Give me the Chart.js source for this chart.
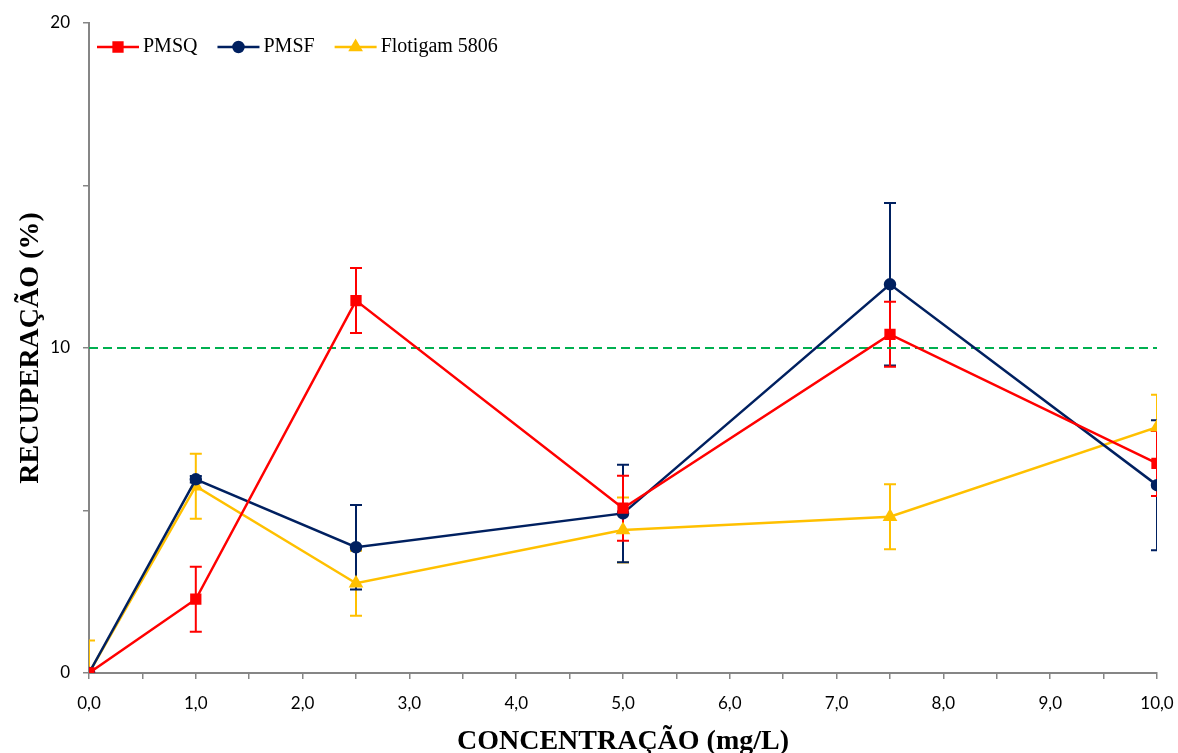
<!DOCTYPE html>
<html>
<head>
<meta charset="utf-8">
<script src="https://cdn.jsdelivr.net/npm/chart.js@4/dist/chart.umd.min.js"></script>
<style>
html,body{margin:0;padding:0;background:#fff;}
#wrap{width:1178px;height:753px;position:relative;}
</style>
</head>
<body>
<div id="wrap"><canvas id="c" width="1178" height="753"></canvas></div>
<script>
// ---- data ----
const concentrations = [0, 1, 2.5, 5, 7.5, 10];
const seriesNames = ['PMSQ', 'PMSF', 'Flotigam 5806'];
const pmsq    = [0, 2.27, 11.46, 5.07, 10.42, 6.45];
const pmsqErr = [0, 1.0, 1.0, 1.0, 1.0, 1.0];
const pmsf    = [0, 5.96, 3.87, 4.91, 11.96, 5.78];
const pmsfErr = [0, 0.1, 1.3, 1.5, 2.5, 2.0];
const flot    = [0, 5.75, 2.76, 4.40, 4.81, 7.56];
const flotErr = [1.0, 1.0, 1.0, 1.0, 1.0, 1.0];
const threshold = 10;
const xLabelTicks = [0,1,2,3,4,5,6,7,8,9,10];
const yLabelTicks = [0,10,20];
const xTitle = 'CONCENTRAÇÃO (mg/L)';
const yTitle = 'RECUPERAÇÃO (%)';

const RED = '#FF0000', NAVY = '#002060', GOLD = '#FFC000', GREEN = '#00B050', AXIS = '#868686';

function pts(ys){ return concentrations.map((x,i)=>({x:x, y:ys[i]})); }

const errorSets = [pmsqErr, pmsfErr, flotErr];

const errorBarPlugin = {
  id: 'errorBars',
  beforeDatasetsDraw(chart){
    const ctx = chart.ctx, ys = chart.scales.y, ca = chart.chartArea;
    ctx.save();
    ctx.beginPath();
    ctx.rect(ca.left, ca.top, ca.right-ca.left, ca.bottom-ca.top);
    ctx.clip();
    [2,1,0].forEach(i=>{
      const ds = chart.data.datasets[i];
      const errs = errorSets[i];
      const meta = chart.getDatasetMeta(i);
      ctx.strokeStyle = ds.borderColor;
      ctx.lineWidth = 2;
      meta.data.forEach((el,j)=>{
        const e = errs[j];
        if(!e) return;
        const v = ds.data[j].y;
        const x = el.x;
        const yt = ys.getPixelForValue(v+e), yb = ys.getPixelForValue(v-e);
        ctx.beginPath();
        ctx.moveTo(x, yt); ctx.lineTo(x, yb);
        ctx.moveTo(x-6, yt); ctx.lineTo(x+6, yt);
        ctx.moveTo(x-6, yb); ctx.lineTo(x+6, yb);
        ctx.stroke();
      });
    });
    ctx.restore();
  }
};

// horizontal legend drawn inside the plot area
const insideLegendPlugin = {
  id: 'insideLegend',
  afterDraw(chart){
    const ctx = chart.ctx, ca = chart.chartArea;
    let x = ca.left + 8;
    const y = ca.top + 24;
    const lineW = 42;
    ctx.save();
    ctx.font = '20px "Liberation Serif"';
    ctx.textBaseline = 'middle';
    ctx.textAlign = 'left';
    [0,1,2].forEach(i=>{
      const ds = chart.data.datasets[i];
      ctx.strokeStyle = ds.borderColor;
      ctx.lineWidth = 2.5;
      ctx.beginPath(); ctx.moveTo(x, y); ctx.lineTo(x+lineW, y); ctx.stroke();
      ctx.fillStyle = ds.borderColor;
      Chart.helpers.drawPoint(ctx, {pointStyle: ds.pointStyle, radius: ds.pointRadius, borderWidth:1, rotation:0}, x+lineW/2, y);
      ctx.fillStyle = '#000';
      const tx = x + lineW + 4;
      ctx.fillText(ds.label, tx, y);
      x = tx + ctx.measureText(ds.label).width + 20;
    });
    ctx.restore();
  }
};

new Chart(document.getElementById('c'), {
  type: 'line',
  data: {
    datasets: [
      { label: seriesNames[0], data: pts(pmsq), borderColor: RED, backgroundColor: RED,
        borderWidth: 2.5, pointStyle: 'rect', pointRadius: 6.2, pointHoverRadius: 6.2, order: 1 },
      { label: seriesNames[1], data: pts(pmsf), borderColor: NAVY, backgroundColor: NAVY,
        borderWidth: 2.5, pointStyle: 'circle', pointRadius: 5, pointHoverRadius: 5, order: 2 },
      { label: seriesNames[2], data: pts(flot), borderColor: GOLD, backgroundColor: GOLD,
        borderWidth: 2.5, pointStyle: 'triangle', pointRadius: 6, pointHoverRadius: 6, order: 3 },
      { label: 'ref', data: [{x:concentrations[0], y:threshold},{x:concentrations[concentrations.length-1], y:threshold}],
        borderColor: GREEN, borderWidth: 2, borderDash: [9,5], pointRadius: 0, order: 4 }
    ]
  },
  options: {
    responsive: false,
    animation: false,
    devicePixelRatio: 1,
    layout: { padding: { left: 0, right: 21, top: 23, bottom: 0 } },
    plugins: {
      legend: { display: false },
      tooltip: { enabled: false }
    },
    scales: {
      x: {
        type: 'linear', min: 0, max: 10,
        afterBuildTicks: (s) => { const t=[]; for(let v=0; v<=10.001; v+=0.5) t.push({value:v}); s.ticks=t; },
        afterFit: (s) => { s.height = 80; s.paddingLeft = 0; s.paddingRight = 0; },
        border: { color: AXIS, width: 2 },
        grid: { drawOnChartArea: false, color: AXIS, tickLength: 6, lineWidth: 1.5 },
        ticks: {
          autoSkip: false, maxRotation: 0, padding: 14, color: '#000',
          font: { family: 'Lato', size: 17 },
          callback: (v) => xLabelTicks.includes(v) ? v.toFixed(1).replace('.', ',') : ''
        },
        title: { display: true, text: xTitle, color: '#000', padding: {top:0,bottom:-6},
          font: { family: 'Liberation Serif', size: 28, weight: 'bold' } }
      },
      y: {
        type: 'linear', min: 0, max: 20,
        afterBuildTicks: (s) => { s.ticks = [0,5,10,15,20].map(v=>({value:v})); },
        afterFit: (s) => { s.width = 89; s.paddingTop = 0; s.paddingBottom = 0; },
        border: { color: AXIS, width: 2 },
        grid: { drawOnChartArea: false, color: AXIS, tickLength: 6, lineWidth: 1.5 },
        ticks: {
          padding: 13, color: '#000',
          font: { family: 'Lato', size: 17 },
          callback: (v) => yLabelTicks.includes(v) ? String(v) : ''
        },
        title: { display: true, text: yTitle, color: '#000', padding: {top:14,bottom:0},
          font: { family: 'Liberation Serif', size: 28, weight: 'bold' } }
      }
    }
  },
  plugins: [errorBarPlugin, insideLegendPlugin]
});
</script>
</body>
</html>
